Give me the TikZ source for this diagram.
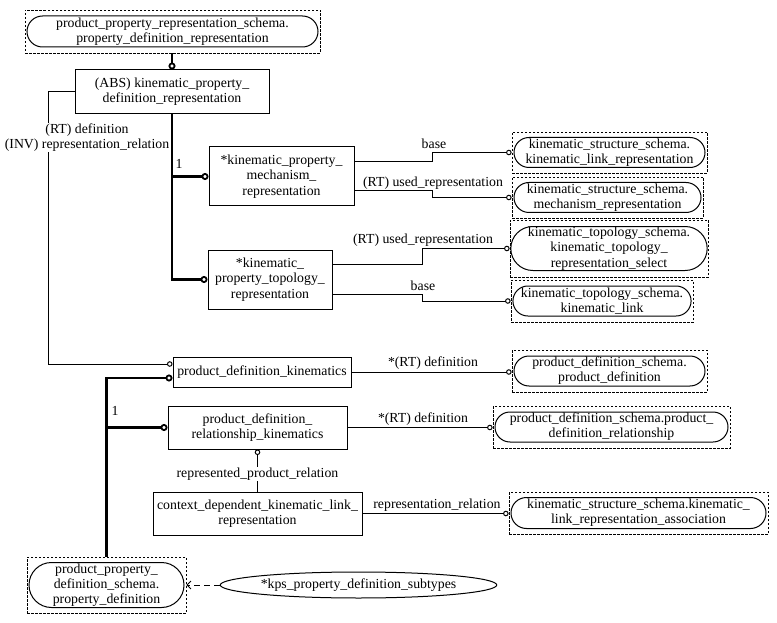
\documentclass[tikz,border=0pt]{standalone}
\usepackage{fontspec}
\setmainfont{Liberation Serif}
\usetikzlibrary{arrows.meta,shapes.misc,shapes.geometric,calc}
\begin{document}
\begin{tikzpicture}[x=1pt,y=-1pt,
  every node/.style={font=\fontsize{13.8}{15.2}\selectfont},
  ent/.style={draw, rectangle, line width=1pt, align=center, inner sep=0pt},
  ext/.style={draw, rectangle, line width=0.8pt, dash pattern=on 2.5pt off 1.5pt, inner sep=0pt},
  extin/.style={draw, rounded rectangle, line width=1pt, align=center, inner sep=0pt},
  thn/.style={line width=1pt},
  thk/.style={line width=2.2pt},
  cs/.style={-{Circle[open,length=5.5pt,width=5.5pt,line width=1pt]}},
  cb/.style={-{Circle[open,length=7pt,width=7pt,line width=1.8pt]}},
  lbl/.style={fill=white, inner sep=1pt, align=center}]
\useasboundingbox (0,0) rectangle (777,623);
\fill[white] (0,0) rectangle (777,623);

% external entities (dashed frame + rounded inner)
\node[ext, minimum width=295pt, minimum height=43pt] (top) at (172.5,31.5) {};
\node[extin, minimum width=291pt, minimum height=31pt] (topin) at (172.5,31.5) {product\_property\_representation\_schema.\\property\_definition\_representation};

\node[ext, minimum width=195pt, minimum height=41pt] (klr) at (609.5,152.5) {};
\node[extin, minimum width=191pt, minimum height=30pt] (klrin) at (609.5,152.5) {kinematic\_structure\_schema.\\kinematic\_link\_representation};

\node[ext, minimum width=191pt, minimum height=41pt] (mr) at (607.5,197.5) {};
\node[extin, minimum width=187pt, minimum height=30pt] (mrin) at (607.5,197.5) {kinematic\_structure\_schema.\\mechanism\_representation};

\node[ext, minimum width=198pt, minimum height=57pt] (tsel) at (609,248.5) {};
\node[extin, minimum width=194pt, minimum height=44pt] (tselin) at (609,248.5) {kinematic\_topology\_schema.\\kinematic\_topology\_\\representation\_select};

\node[ext, minimum width=182pt, minimum height=42pt] (kl) at (602,301) {};
\node[extin, minimum width=178pt, minimum height=30pt] (klin) at (602,301) {kinematic\_topology\_schema.\\kinematic\_link};

\node[ext, minimum width=195pt, minimum height=42pt] (pd) at (609.5,371) {};
\node[extin, minimum width=191pt, minimum height=30pt] (pdin) at (609.5,371) {product\_definition\_schema.\\product\_definition};

\node[ext, minimum width=237pt, minimum height=42pt] (pdr) at (611.5,427) {};
\node[extin, minimum width=233pt, minimum height=30pt] (pdrin) at (611.5,427) {product\_definition\_schema.product\_\\definition\_relationship};

\node[ext, minimum width=259pt, minimum height=42pt] (klra) at (638.5,513) {};
\node[extin, minimum width=255pt, minimum height=31pt] (klrain) at (638.5,513) {kinematic\_structure\_schema.kinematic\_\\link\_representation\_association};

\node[ext, minimum width=159pt, minimum height=56pt] (ppd) at (106.5,585) {};
\node[extin, minimum width=155pt, minimum height=45pt] (ppdin) at (106.5,585) {product\_property\_\\definition\_schema.\\property\_definition};

% entities
\node[ent, minimum width=194pt, minimum height=44pt] (abs) at (172,92) {(ABS) kinematic\_property\_\\definition\_representation};
\node[ent, minimum width=145pt, minimum height=59pt] (mech) at (281.5,176.5) {*kinematic\_property\_\\mechanism\_\\representation};
\node[ent, minimum width=124pt, minimum height=59pt] (topo) at (270,279.5) {*kinematic\_\\property\_topology\_\\representation};
\node[ent, minimum width=178pt, minimum height=30pt] (pdk) at (262,372) {product\_definition\_kinematics};
\node[ent, minimum width=179pt, minimum height=43pt] (pdrk) at (257.5,427.5) {product\_definition\_\\relationship\_kinematics};
\node[ent, minimum width=209pt, minimum height=43pt] (cdkl) at (257.5,513.5) {context\_dependent\_kinematic\_link\_\\representation};
\node[draw, ellipse, line width=1pt, inner sep=0pt, minimum width=267pt, minimum height=26pt] (ell) at (358.5,585) {*kps\_property\_definition\_subtypes};

% connectors
\draw[thk,cb] (abs.north |- top.south) -- (abs.north);
\coordinate (lft) at (48,364);
\draw[thn,cs] (abs.west) -| (lft) -- (lft -| pdk.west);
\draw[thk,cb] (abs.south) |- (mech.west);
\draw[thk,cb] (abs.south) |- (topo.west);

\draw[thn,cs] ($(mech.east)+(0,-15)$) -- ++(78,0) |- (klr.west);
\draw[thn,cs] ($(mech.east)+(0,14)$) -- ++(78,0) |- (mr.west);
\draw[thn,cs] ($(topo.east)+(0,-15)$) -- ++(90,0) |- (tsel.west);
\draw[thn,cs] ($(topo.east)+(0,15)$) -- ++(90,0) |- (kl.west);

\draw[thk,cb] (ppd.north) |- ($(pdk.west)+(0,6)$);
\draw[thk,cb] (ppd.north) |- (pdrk.west);

\draw[thn,cs] (pdk.east) -- (pdk.east -| pd.west);
\draw[thn,cs] (pdrk.east) -- (pdrk.east -| pdr.west);
\draw[thn,cs] (cdkl.east) -- (cdkl.east -| klra.west);
\draw[thn,cs] (cdkl.north) -- (pdrk.south);
\draw[line width=0.8pt, dash pattern=on 6pt off 4pt, -{Straight Barb[length=4pt,width=8pt,line width=0.8pt]}] (ell.west) -- (ppd.east);

% labels
\node[lbl] (l1) at (87,137.5) {(RT) definition\\(INV) representation\_relation};
\node (n1) at (179,164) {1};
\node (n2) at (115,411) {1};
\node (l2) at (434,144) {base};
\node (l3) at (433,183) {(RT) used\_representation};
\node (l4) at (423,240) {(RT) used\_representation};
\node (l5) at (423,286) {base};
\node (l6) at (433,363) {*(RT) definition};
\node (l7) at (423,419) {*(RT) definition};
\node (l8) at (437,505) {representation\_relation};
\node[lbl] (l9) at (257.5,474) {represented\_product\_relation};
\end{tikzpicture}
\end{document}
